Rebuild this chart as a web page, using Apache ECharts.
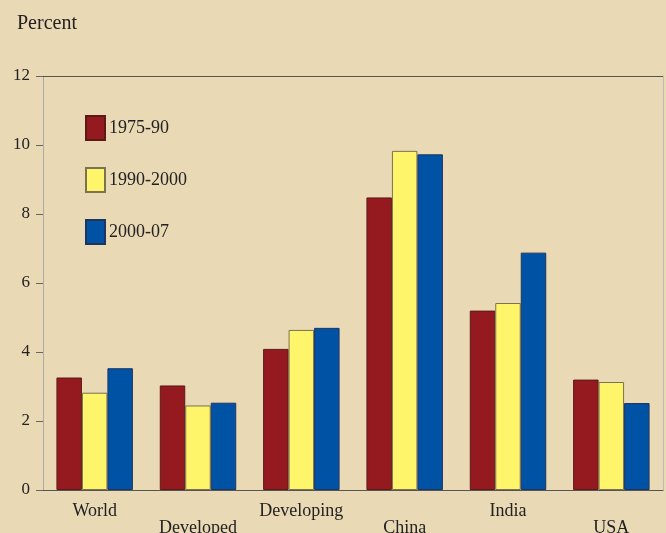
<!DOCTYPE html>
<html><head><meta charset="utf-8">
<script src="https://cdn.jsdelivr.net/npm/echarts@6/dist/echarts.min.js"></script>
<style>html,body{margin:0;padding:0;background:#EAD9B5;}#c{width:666px;height:533px;}</style>
</head><body><div id="c"></div>
<script>
var categories = ['World','Developed','Developing','China','India','USA'];
var s1975 = [3.26, 3.03, 4.09, 8.48, 5.20, 3.20];
var s1990 = [2.82, 2.45, 4.64, 9.83, 5.42, 3.13];
var s2000 = [3.53, 2.53, 4.70, 9.73, 6.88, 2.52];
var seriesNames = ['1975-90','1990-2000','2000-07'];
var yTicks = [0,2,4,6,8,10,12];

var font = 'Liberation Serif';
var chart = echarts.init(document.getElementById('c'));
function bar(name, data, color, border) {
  return {name: name, type: 'bar', data: data, barGap: '0%', barCategoryGap: '26%',
    itemStyle: {color: color, borderColor: border, borderWidth: 1}};
}
var series = [
  bar(seriesNames[0], s1975, '#951A1F', '#5a1a1a'),
  bar(seriesNames[1], s1990, '#FFF56B', '#7a7250'),
  bar(seriesNames[2], s2000, '#0052A5', '#1f3560')
];
series[0].markLine = {silent: true, symbol: 'none', label: {show: false},
  lineStyle: {color: '#555', width: 1, type: 'solid'}, data: [{yAxis: yTicks[yTicks.length-1]}]};
chart.setOption({
  backgroundColor: '#EAD9B5',
  animation: false,
  textStyle: {fontFamily: font},
  title: {text: 'Percent', left: 12, top: 9, textStyle: {fontFamily: font, fontSize: 20, fontWeight: 'normal', color: '#222'}},
  legend: {orient: 'vertical', left: 85, top: 115, padding: 0, itemWidth: 19, itemHeight: 24, itemGap: 26,
    icon: 'rect', textStyle: {fontFamily: font, fontSize: 18, color: '#222', padding: [0,0,0,-1]}},
  grid: {left: 43, right: 3, top: 76, bottom: 43, containLabel: false, outerBoundsMode: 'none'},
  xAxis: {type: 'category', data: categories,
    axisLine: {lineStyle: {color: '#555', width: 1}},
    axisTick: {alignWithLabel: true, length: 8, lineStyle: {color: '#bbb'}},
    axisLabel: {interval: 0, fontFamily: font, fontSize: 18, color: '#222', margin: 13,
      formatter: function(v, i){ return i % 2 === 1 ? '\n' + v : v; }, lineHeight: 17}},
  yAxis: [{type: 'value', min: 0, max: 12, interval: 2,
    axisLine: {show: true, lineStyle: {color: '#aaa'}},
    axisTick: {show: true, length: 7, lineStyle: {color: '#666'}},
    splitLine: {show: false},
    axisLabel: {fontFamily: font, fontSize: 17, color: '#222', margin: 13}},
    {type: 'value', min: 0, max: 12, interval: 2, position: 'right',
    axisLine: {show: true, lineStyle: {color: '#bbb'}}, axisTick: {show: false}, axisLabel: {show: false}, splitLine: {show: false}}],
  series: series
});
</script></body></html>
